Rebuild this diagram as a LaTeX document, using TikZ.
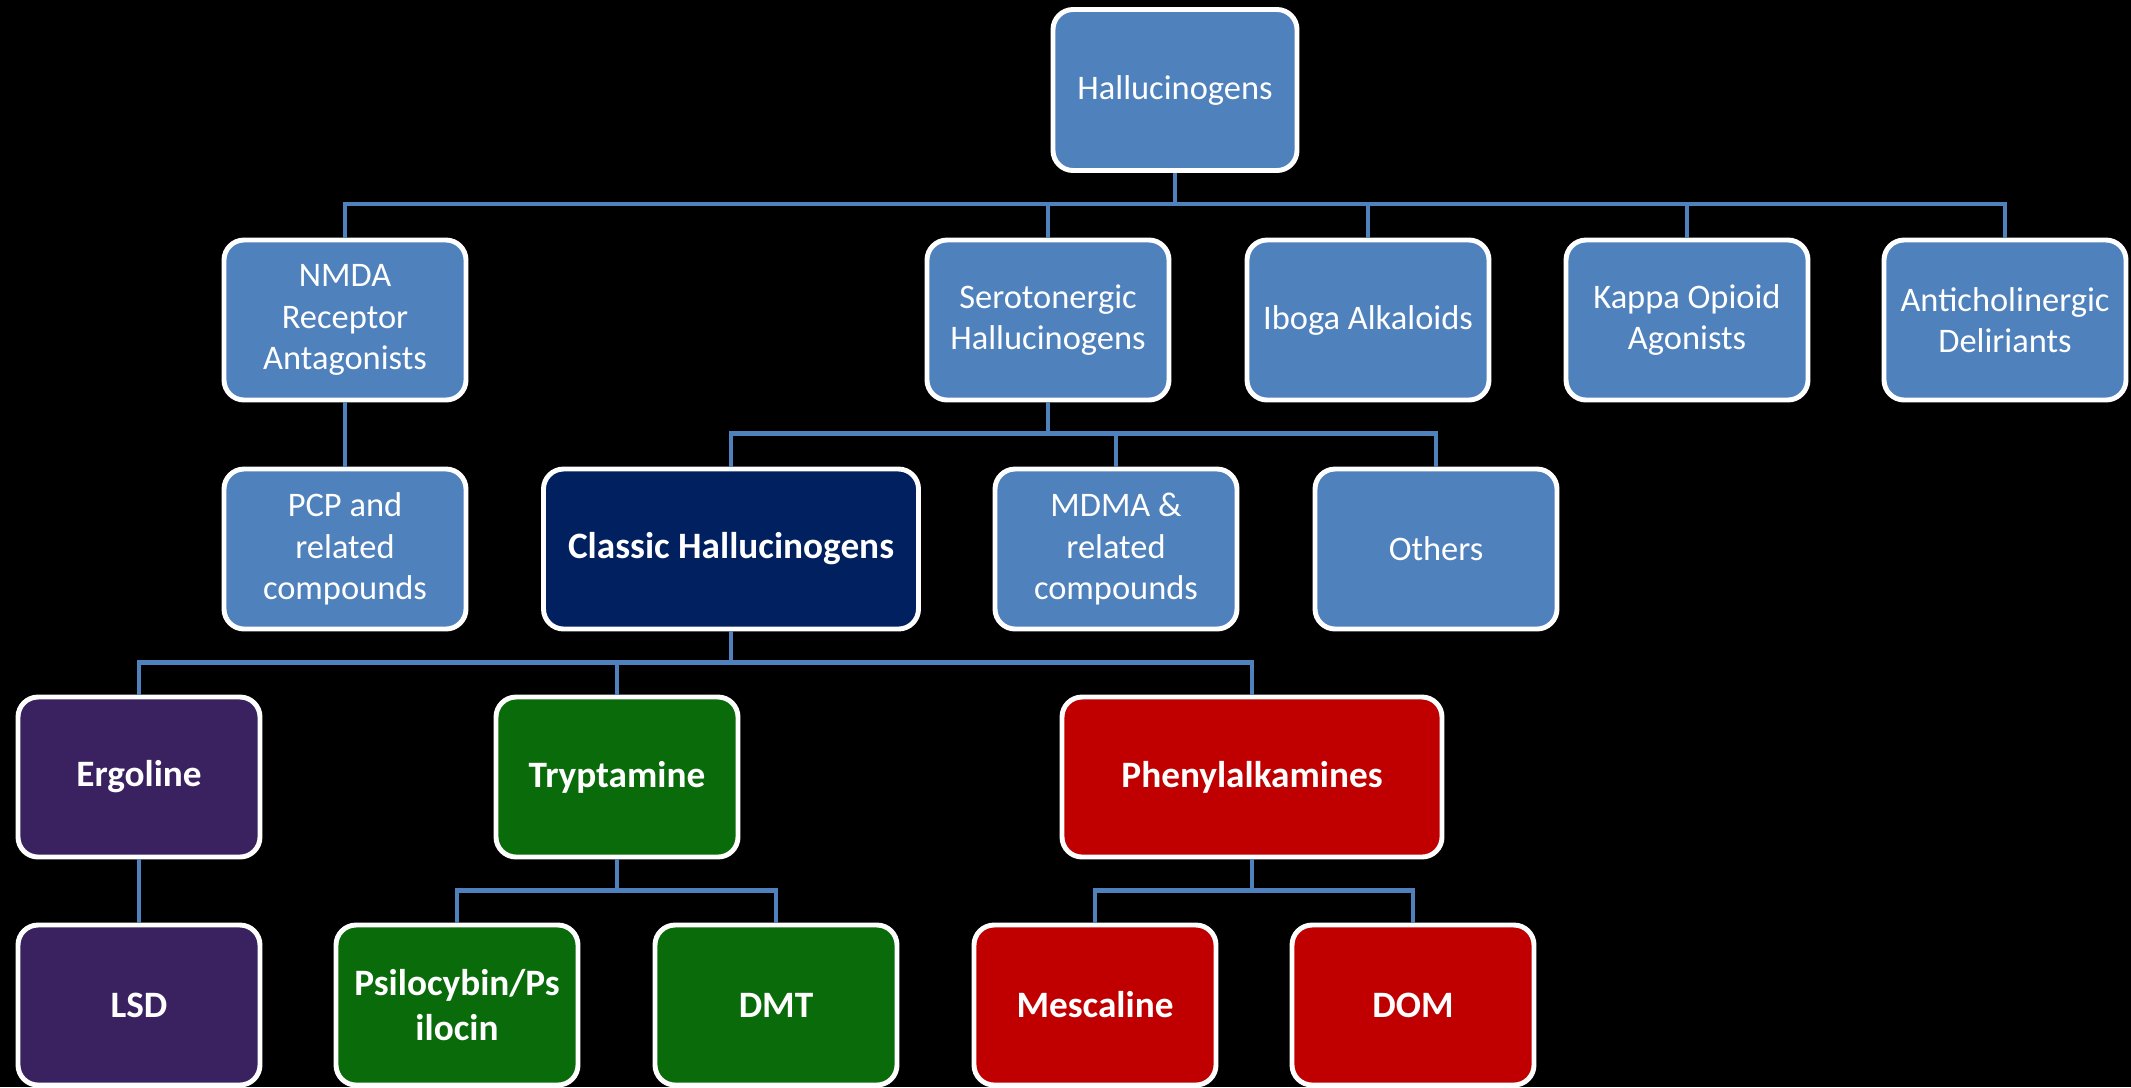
\documentclass[tikz,border=0pt]{standalone}
\usepackage{fontspec}
\setmainfont{Carlito}
\definecolor{boxblue}{HTML}{4F81BD}
\definecolor{classicnavy}{HTML}{002060}
\definecolor{ergopurple}{HTML}{3A2261}
\definecolor{tryptgreen}{HTML}{0A6B0A}
\definecolor{phenred}{HTML}{C00000}
\begin{document}
\begin{tikzpicture}[
    box/.style={
        rectangle,
        rounded corners=5.7pt,
        draw=white,
        line width=1.4pt,
        fill=#1,
        text=white,
        minimum width=2.42cm,
        minimum height=1.60cm,
        align=center,
        font=\fontsize{9.8}{11.8}\selectfont
    },
    box/.default=boxblue,
    boldbox/.style={box=#1, font=\fontsize{10.6}{12.8}\selectfont\bfseries},
    link/.style={draw=boxblue, line width=1.4pt}
]

\fill[black] (0,0) rectangle (21.31,-10.87);
\useasboundingbox (0,0) rectangle (21.31,-10.87);

% top
\node[box, minimum width=2.44cm, minimum height=1.61cm] (hal) at (11.75,-0.90) {Hallucinogens};

% second row
\node[box] (nmda) at (3.45,-3.20) {NMDA\\Receptor\\Antagonists};
\node[box] (sero) at (10.48,-3.20) {Serotonergic\\Hallucinogens};
\node[box] (iboga) at (13.68,-3.20) {Iboga Alkaloids};
\node[box] (kappa) at (16.87,-3.20) {Kappa Opioid\\Agonists};
\node[box] (anti) at (20.05,-3.20) {Anticholinergic\\Deliriants};

% third row
\node[box] (pcp) at (3.45,-5.49) {PCP and\\related\\compounds};
\node[boldbox=classicnavy, minimum width=3.75cm] (classic) at (7.31,-5.49) {Classic Hallucinogens};
\node[box] (mdma) at (11.16,-5.49) {MDMA \&\\related\\compounds};
\node[box] (others) at (14.36,-5.49) {Others};

% fourth row
\node[boldbox=ergopurple] (ergo) at (1.39,-7.77) {Ergoline};
\node[boldbox=tryptgreen] (trypt) at (6.17,-7.77) {Tryptamine};
\node[boldbox=phenred, minimum width=3.80cm] (phenyl) at (12.52,-7.77) {Phenylalkamines};

% bottom row
\node[boldbox=ergopurple] (lsd) at (1.39,-10.05) {LSD};
\node[boldbox=tryptgreen] (psilo) at (4.57,-10.05) {Psilocybin/Ps\\ilocin};
\node[boldbox=tryptgreen] (dmt) at (7.76,-10.05) {DMT};
\node[boldbox=phenred] (mesc) at (10.95,-10.05) {Mescaline};
\node[boldbox=phenred] (dom) at (14.13,-10.05) {DOM};

% connectors
\draw[link] (hal.south) -- ++(0,-0.31) -| (nmda.north);
\draw[link] (hal.south) -- ++(0,-0.31) -| (sero.north);
\draw[link] (hal.south) -- ++(0,-0.31) -| (iboga.north);
\draw[link] (hal.south) -- ++(0,-0.31) -| (kappa.north);
\draw[link] (hal.south) -- ++(0,-0.31) -| (anti.north);

\draw[link] (nmda.south) -- (pcp.north);

\draw[link] (sero.south) -- ++(0,-0.31) -| (classic.north);
\draw[link] (sero.south) -- ++(0,-0.31) -| (mdma.north);
\draw[link] (sero.south) -- ++(0,-0.31) -| (others.north);

\draw[link] (classic.south) -- ++(0,-0.31) -| (ergo.north);
\draw[link] (classic.south) -- ++(0,-0.31) -| (trypt.north);
\draw[link] (classic.south) -- ++(0,-0.31) -| (phenyl.north);

\draw[link] (ergo.south) -- (lsd.north);

\draw[link] (trypt.south) -- ++(0,-0.31) -| (psilo.north);
\draw[link] (trypt.south) -- ++(0,-0.31) -| (dmt.north);

\draw[link] (phenyl.south) -- ++(0,-0.31) -| (mesc.north);
\draw[link] (phenyl.south) -- ++(0,-0.31) -| (dom.north);

\end{tikzpicture}
\end{document}
